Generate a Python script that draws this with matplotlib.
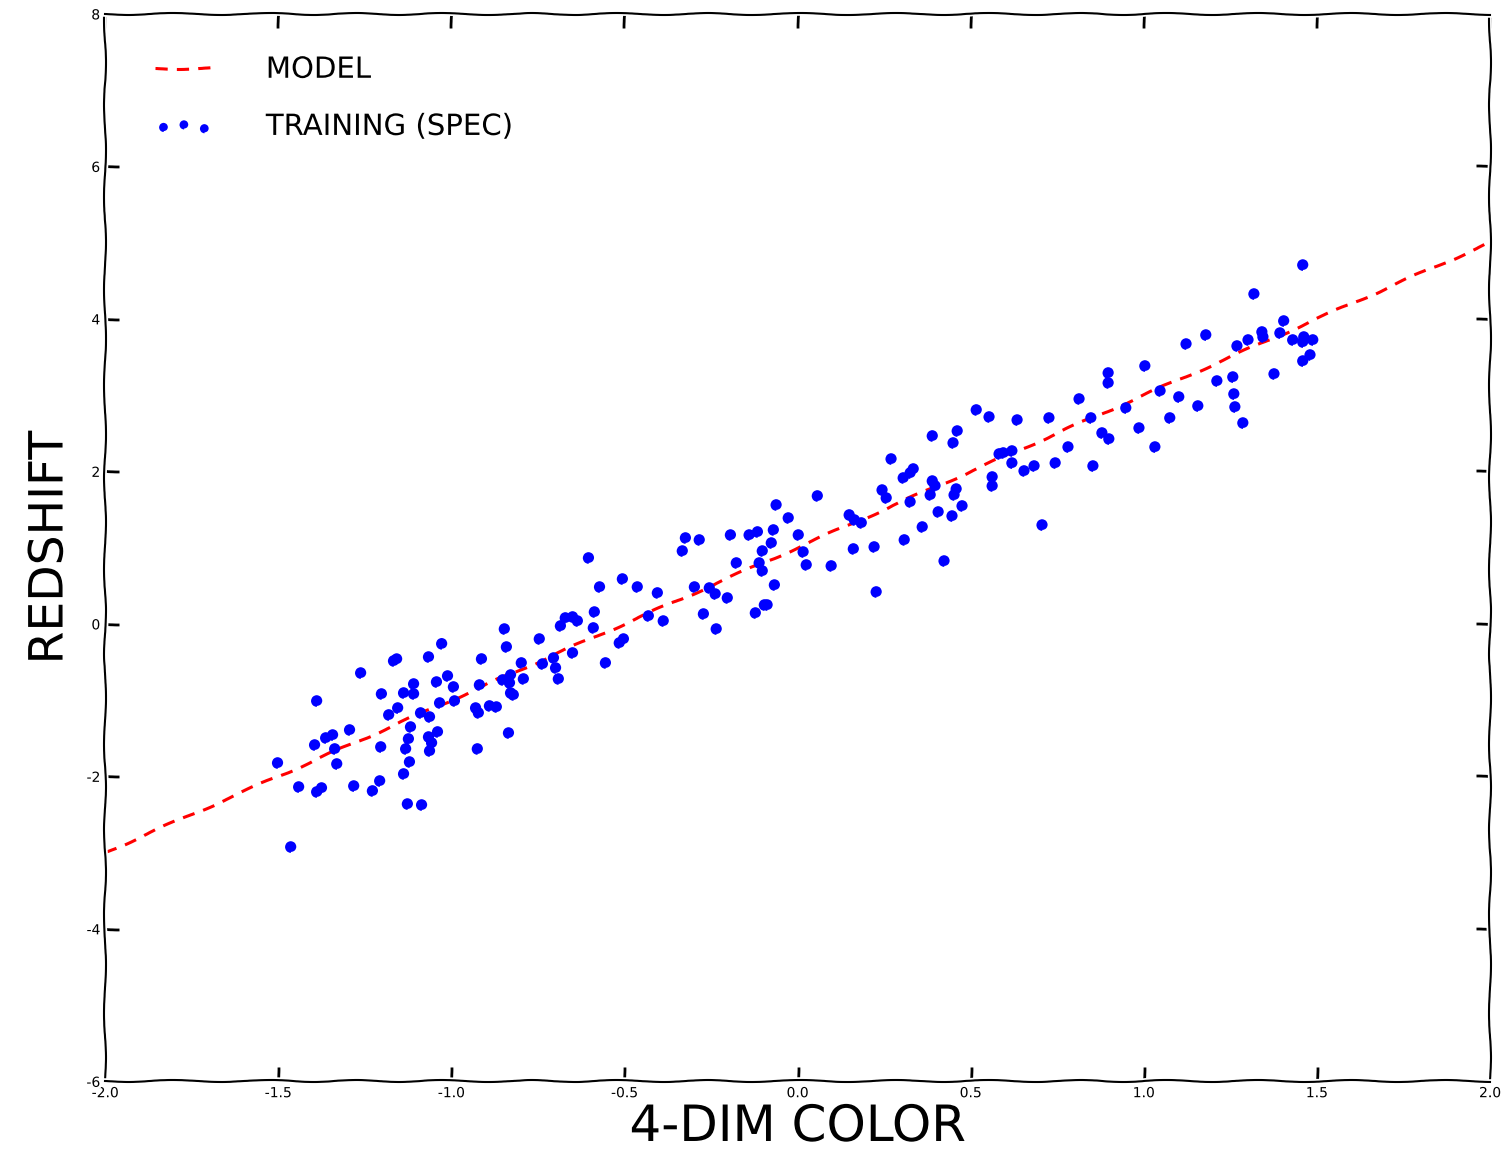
import matplotlib
matplotlib.use("Agg")
import matplotlib.pyplot as plt

# =========================
# DATA
# =========================

color_x = [
    -1.027, -1.166, -1.157, -1.065, -1.261, -1.010, -1.042, -1.108, -0.993, -1.137,
    -1.108, -1.201, -1.388, -1.033, -0.990, -1.154, -1.180, -1.088, -1.062, -1.117,
    -1.039, -1.065, -1.293, -1.342, -1.362, -1.123, -1.056, -1.394, -1.336, -1.203,
    -1.131, -1.062, -1.120, -1.501, -1.330, -1.137, -1.440, -1.388, -1.374, -1.281,
    -1.227, -1.206, -1.126, -1.085, -1.463,
    -0.603, -0.571, -0.505, -0.462, -0.586, -0.589, -0.684, -0.670, -0.649, -0.635,
    -0.514, -0.502, -0.554, -0.649, -0.745, -0.704, -0.698, -0.736, -0.690, -0.797,
    -0.791, -0.846, -0.840, -0.912, -0.918, -0.851, -0.828, -0.831, -0.828, -0.820,
    -0.929, -0.921, -0.889, -0.869, -0.834, -0.924,
    0.058, -0.061, -0.026, 0.003, -0.069, -0.115, -0.139, -0.075, -0.101, -0.193,
    -0.323, -0.283, -0.332, 0.017, 0.026, -0.176, -0.110, -0.101, -0.066, -0.404,
    -0.297, -0.254, -0.237, -0.202, -0.430, -0.387, -0.271, -0.234, -0.121, -0.095,
    -0.087,
    0.517, 0.554, 0.462, 0.450, 0.390, 0.271, 0.583, 0.335, 0.326, 0.306,
    0.390, 0.398, 0.384, 0.459, 0.453, 0.563, 0.563, 0.245, 0.257, 0.326,
    0.476, 0.407, 0.447, 0.150, 0.165, 0.185, 0.361, 0.309, 0.098, 0.162,
    0.222, 0.424, 0.228,
    1.004, 0.898, 0.898, 1.048, 0.814, 0.949, 0.635, 0.727, 0.848, 0.987,
    0.880, 0.900, 1.033, 0.782, 0.595, 0.620, 0.620, 0.655, 0.684, 0.745,
    0.854, 0.707,
    1.460, 1.319, 1.405, 1.180, 1.123, 1.342, 1.345, 1.302, 1.270, 1.394,
    1.431, 1.463, 1.489, 1.460, 1.481, 1.460, 1.212, 1.258, 1.377, 1.261,
    1.264, 1.287, 1.102, 1.157, 1.076,
]

redshift_y = [
    -0.26, -0.485, -0.46, -0.433, -0.643, -0.682, -0.761, -0.787, -0.826, -0.905,
    -0.918, -0.918, -1.010, -1.036, -1.010, -1.102, -1.193, -1.167, -1.220, -1.351,
    -1.416, -1.482, -1.390, -1.456, -1.495, -1.508, -1.561, -1.587, -1.639, -1.613,
    -1.639, -1.666, -1.810, -1.823, -1.836, -1.967, -2.138, -2.203, -2.151, -2.125,
    -2.190, -2.059, -2.361, -2.374, -2.925,
    0.866, 0.485, 0.590, 0.485, 0.157, -0.052, -0.026, 0.079, 0.092, 0.039,
    -0.249, -0.197, -0.511, -0.380, -0.197, -0.446, -0.577, -0.525, -0.721, -0.511,
    -0.721, -0.066, -0.302, -0.459, -0.800, -0.734, -0.669, -0.774, -0.905, -0.931,
    -1.102, -1.167, -1.075, -1.089, -1.430, -1.639,
    1.679, 1.561, 1.390, 1.167, 1.233, 1.207, 1.167, 1.062, 0.957, 1.167,
    1.128, 1.102, 0.957, 0.944, 0.774, 0.800, 0.800, 0.695, 0.511, 0.407,
    0.485, 0.472, 0.393, 0.341, 0.105, 0.039, 0.131, -0.066, 0.144, 0.249,
    0.249,
    2.807, 2.715, 2.531, 2.374, 2.466, 2.164, 2.230, 2.033, 1.980, 1.915,
    1.875, 1.810, 1.692, 1.770, 1.692, 1.928, 1.810, 1.757, 1.652, 1.600,
    1.548, 1.469, 1.416, 1.430, 1.364, 1.325, 1.272, 1.102, 0.761, 0.984,
    1.010, 0.826, 0.420,
    3.384, 3.292, 3.161, 3.056, 2.951, 2.833, 2.675, 2.702, 2.702, 2.570,
    2.505, 2.426, 2.321, 2.321, 2.243, 2.269, 2.111, 2.007, 2.072, 2.111,
    2.072, 1.298,
    4.708, 4.328, 3.974, 3.790, 3.672, 3.830, 3.764, 3.725, 3.646, 3.816,
    3.725, 3.764, 3.725, 3.698, 3.528, 3.449, 3.187, 3.239, 3.279, 3.016,
    2.846, 2.636, 2.977, 2.859, 2.702,
]

model_x = [-2.0, 2.0]
model_y = [-3.0, 5.0]

x_ticks = [-2.0, -1.5, -1.0, -0.5, 0.0, 0.5, 1.0, 1.5, 2.0]
y_ticks = [-6, -4, -2, 0, 2, 4, 6, 8]

# =========================
# PLOT
# =========================

plt.xkcd()
plt.rcParams["font.family"] = ["DejaVu Sans"]

fig = plt.figure(figsize=(15.07, 11.59), dpi=100)
ax = fig.add_axes([0.0697, 0.067, 0.919, 0.921])

ax.plot(model_x, model_y, color="red", linestyle=(0, (4, 3)), linewidth=2.2,
        label="MODEL")
ax.scatter(color_x, redshift_y, s=52, color="blue", edgecolors="none",
           label="TRAINING (SPEC)", zorder=3)

ax.set_xlim(-2.0, 2.0)
ax.set_ylim(-6, 8)
ax.set_xticks(x_ticks)
ax.set_yticks(y_ticks)
ax.tick_params(direction="in", top=True, right=True, length=10, width=2,
               labelsize=10)

ax.set_xlabel("4-DIM COLOR", fontsize=36, labelpad=2)
ax.set_ylabel("REDSHIFT", fontsize=34, labelpad=10)

ax.legend(loc="upper left", bbox_to_anchor=(0.0087, 0.9963), frameon=False,
          fontsize=21, scatterpoints=3, markerscale=0.75, handlelength=2.0,
          handletextpad=1.8, labelspacing=1.0, borderaxespad=0.9)

fig.savefig("out.png", dpi=100)
